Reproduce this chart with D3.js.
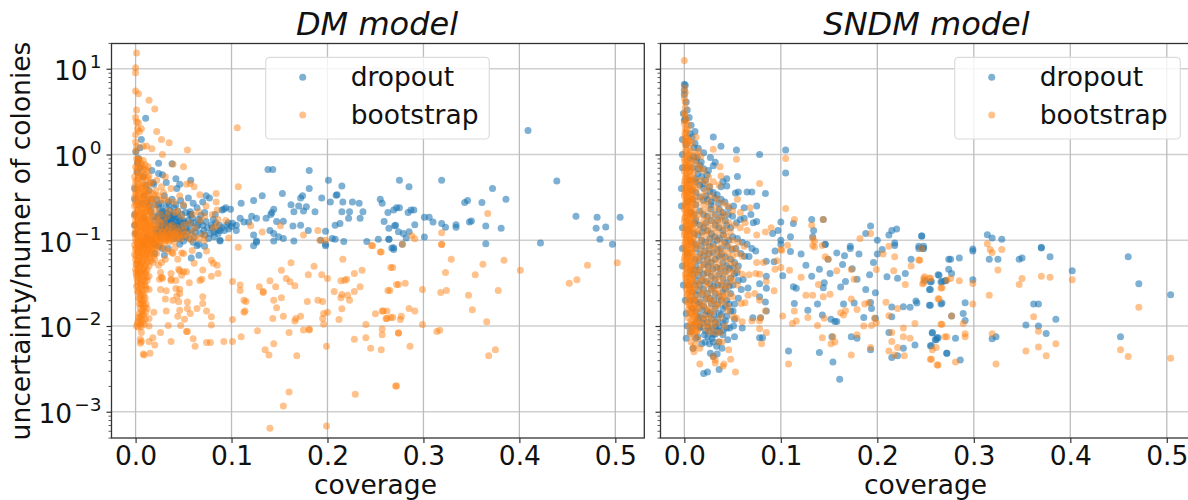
<!DOCTYPE html>
<html><head><meta charset="utf-8">
<script src="https://cdn.jsdelivr.net/npm/d3@7/dist/d3.min.js"></script>
<style>html,body{margin:0;padding:0;background:#fff;overflow:hidden}svg{display:block}text{font-family:"DejaVu Sans",sans-serif;fill:#111}</style>
</head><body><svg id="c" width="1188" height="500"></svg>
<script>
const panelTitles=["DM model","SNDM model"];
const seriesNames=["dropout","bootstrap"];
const seriesColors=["#1f77b4","#ff7f0e"];
const xTicks=[0,.1,.2,.3,.4,.5];
const yTicks=[10,1,.1,.01,.001];
const yMinor=[20,9,8,7,6,5,4,3,2,.9,.8,.7,.6,.5,.4,.3,.2,.09,.08,.07,.06,.05,.04,.03,.02,.009,.008,.007,.006,.005,.004,.003,.002,.0009,.0008,.0007,.0006,.0005];

const dmDropout=[[.138,.67],[.143,.67],[.181,.65],[.201,.5],[.215,.43],[.275,.5],[.181,.4],[.153,.35],[.132,.33],[.123,.29],[.11,.27],[.21,.34],[.209,.335],[.194,.31],[.174,.33],[.172,.31],[.162,.26],[.17,.25],[.178,.245],[.165,.215],[.175,.22],[.187,.215],[.203,.28],[.216,.28],[.226,.28],[.233,.27],[.215,.215],[.223,.215],[.237,.215],[.255,.3],[.257,.27],[.263,.21],[.269,.225],[.275,.24],[.222,.18],[.234,.18],[.259,.165],[.271,.15],[.213,.157],[.208,.15],[.172,.15],[.164,.147],[.18,.13],[.154,.167],[.147,.165],[.144,.23],[.141,.2],[.142,.21],[.136,.18],[.126,.18],[.121,.19],[.109,.18],[.113,.163],[.118,.163],[.101,.158],[.105,.13],[.097,.135],[.094,.24],[.099,.23],[.09,.225],[.083,.2],[.0735,.33],[.077,.31],[.07,.28],[.0575,.5],[.042,.52],[.038,.78],[.024,.79],[.006,1.5],[.0105,2.65],[.0003,1.08],[.0045,1.2],[.017,.65],[.024,.6],[.028,.58],[.018,.47],[.019,.45],[.032,.47],[.046,.45],[.043,.4],[.057,.215],[.058,.2],[.067,.165],[.072,.21],[.081,.175],[.092,.23],[.088,.13],[.088,.1],[.123,.115],[.126,.098],[.14,.13],[.144,.12],[.144,.098],[.149,.11],[.154,.105],[.165,.098],[.198,.127],[.193,.1],[.198,.09],[.205,.105],[.208,.103],[.217,.097],[.241,.097],[.253,.103],[.264,.103],[.269,.082],[.123,.086],[.126,.095],[.088,.098],[.198,.086],[.269,.078],[.064,.086],[.046,.09],
[.409,1.9],[.319,.5],[.439,.49],[.285,.42],[.372,.4],[.386,.3],[.346,.29],[.343,.275],[.361,.275],[.272,.24],[.284,.21],[.287,.225],[.29,.225],[.27,.148],[.264,.138],[.274,.126],[.279,.12],[.285,.126],[.282,.106],[.291,.152],[.301,.185],[.306,.185],[.31,.163],[.319,.157],[.323,.142],[.334,.152],[.334,.142],[.348,.163],[.35,.168],[.365,.147],[.381,.138],[.301,.109],[.264,.103],[.365,.091],[.422,.093],[.459,.19],[.481,.185],[.49,.143],[.48,.138],[.505,.185],[.484,.103],[.497,.09],[.267,.081],[.278,.09],
[.022,.3],[.027,.27],[.03,.33],[.034,.28],[.038,.3],[.042,.26],[.047,.29],[.05,.25],[.055,.31],[.06,.27],[.064,.24],[.052,.21],[.048,.2],[.044,.22],[.04,.24],[.036,.22],[.032,.24],[.028,.22],[.024,.2],[.03,.19],[.034,.19],[.038,.18],[.042,.18],[.046,.17],[.05,.17],[.055,.17],[.06,.16],[.065,.15],[.07,.15],[.075,.14],[.08,.14],[.085,.13],[.09,.14],[.095,.15],[.1,.145],[.105,.15],[.058,.13],[.062,.125],[.068,.12],[.072,.115],[.078,.12],[.082,.11],[.086,.12],[.028,.17],[.032,.165],[.036,.16],[.04,.15],[.044,.145],[.048,.14],[.052,.135],[.024,.15],[.028,.145],[.032,.14],[.036,.135],[.04,.13],[.044,.125],[.048,.12],[.052,.11],[.056,.105],[.02,.17],[.018,.19],[.016,.22],[.014,.25],[.012,.28],[.016,.3],[.02,.26],[.024,.26],[.026,.17],[.03,.155],[.034,.15],[.038,.145],[.042,.14],[.03,.13],[.034,.12],[.038,.115],[.026,.125],[.06,.095],[.066,.09],[.072,.085],[.05,.098],[.045,.105],[.04,.105],[.03,.21],[.036,.2],[.04,.2],[.025,.235],[.035,.26],[.011,.44],[.014,.38],[.008,.55],[.005,.7],[.009,.33],[.006,.27],[.003,.9],[.002,.8],[-.001,.4],[-.001,.2],[0,.12],[-.001,.3],[-.001,.15],[.002,.62],[.012,.11],[.016,.1],[.02,.09],[.024,.085],[.028,.08],[.034,.08],[.058,.062],[.066,.067],[.03,.067],[.02,.07],[.009,.18],[.008,.09]];

const dmDropoutDense=[[.0225,.185],[.0265,.205],[.029,.135],[.0305,.175],[.0315,.118],[.033,.158],[.0345,.178],[.035,.142],[.0365,.122],[.0375,.168],[.0385,.152],[.0395,.19],[.041,.138],[.0415,.165],[.043,.119],[.0435,.155],[.0445,.185],[.045,.135],[.0465,.15],[.0475,.112],[.0495,.128],[.0515,.16],[.053,.145],[.0545,.125],[.0565,.2],[.0575,.155],[.059,.18],[.061,.11],[.0635,.14],[.0655,.175],[.068,.195],[.071,.13],[.0735,.165],[.076,.105],[.079,.15],[.0815,.125],[.0835,.16],[.0875,.15],[.0925,.13],[.0965,.16],[.0205,.135],[.0235,.125],[.0265,.145],[.0285,.19],[.0325,.205],[.0355,.175],[.0255,.11],[.0215,.12],[.0335,.108],[.0475,.165]];

const dmBootstrap=[[.001,15.3],[0,10.3],[0,9],[0,5.5],[.003,5.1],[.014,4.3],[.02,3.4],[.001,3.3],[0,2.7],[.001,2.4],[.003,2.35],[.002,2],[.006,2],[.004,1.85],[.106,2.05],[.022,1.85],[.027,1.5],[.035,1.37],[.054,1.13],[.0115,1.26],[.008,1.24],[.017,1.17],[.028,1],[.039,.77],[.05,.72],[0,1.7],[0,1.4],[.001,1.24],[.0003,1.1],[.107,.42],[.061,.42],[.057,.46],[.053,.45],[.067,.34],[.084,.35],[.084,.28],[.0735,.25],[.085,.225],[.066,.215],[.08,.2],[.086,.175],[.094,.17],[.085,.15],[.081,.14],[.071,.115],[.097,.106],[.12,.148],[.151,.148],[.132,.125],[.175,.115],[.19,.13],[.192,.1],[.198,.1],[.246,.087],[.367,.205],[.319,.122],[.288,.113],[.291,.104],[.278,.09],[.319,.09],
[.107,.083],[.256,.073],[.247,.086],[.074,.075],[.038,.072],[.039,.07],[.031,.06],[.044,.06],[.05,.07],[.048,.071],[.061,.054],[.059,.076],[.079,.0585],[.081,.054],[.085,.051],[.07,.045],[.079,.038],[.086,.041],[.05,.043],[.053,.043],[.045,.046],[.046,.044],[.048,.039],[.026,.042],[.027,.037],[.025,.035],[.028,.036],[.037,.041],[.037,.035],[.037,.034],[.042,.034],[.024,.051],[.014,.038],[.056,.032],[.067,.034],[.069,.035],[.101,.033],[.109,.03],[.109,.026],[.129,.0287],[.133,.0253],[.133,.0245],[.14,.0336],[.146,.0287],[.152,.0447],[.162,.0545],[.157,.0358],[.161,.0328],[.166,.0295],[.18,.0395],[.186,.0499],[.194,.0395],[.2,.0358],[.216,.06],[.214,.0336],[.218,.0342],[.22,.035],[.228,.041],[.236,.0447],[.234,.0287],[.228,.0253],[.207,.0253],[.215,.0233],[.214,.0213],[.221,.0229],[.223,.02],[.268,.0481],[.265,.026],[.274,.0305],[.215,.0159],[.179,.0193],[.19,.02],[.195,.0193],[.152,.0213],[.144,.0199],[.147,.0163],[.113,.02],[.115,.0193],[.113,.0145],[.114,.015],[.07,.0219],[.07,.0183],[.054,.019],[.054,.016],[.057,.014],[.064,.016],[.074,.015],[.046,.0153],[.032,.015],[.019,.0145],[.031,.0206],[.039,.02],[.045,.0192],[.026,.0267],[.032,.0258],[.042,.0273],[.046,.0269],[.046,.024],[.043,.0223],[.014,.0267],[.196,.014],[.2,.0145],[.195,.0122],[.196,.0105],[.172,.013],[.167,.0122],[.166,.0114],[.154,.013],[.143,.0122],[.101,.0119],[.079,.0128],[.079,.0103],[.051,.012],[.044,.013],[.014,.0122],[.034,.0101],[.047,.0101],[.014,.01],[.006,.0084],[.053,.0086],[.054,.0086],[.026,.0084],[.127,.0088],[.16,.0084],[.175,.009],[.181,.0092],[.181,.009],[.212,.0119],[.24,.0104],[.257,.0092],[.257,.0079],[.274,.0083],[.25,.0139],[.262,.015],[.258,.015],[.262,.0122],[.268,.0126],[.228,.007],[.24,.0073],[.245,.0055],[.256,.0053],[.199,.0058],[.144,.0062],[.135,.0053],[.139,.0046],[.168,.0045],[.11,.0075],[.101,.0066],[.092,.0066],[.074,.0064],[.078,.0064],[.062,.0058],[.06,.0071],[.037,.0066],[.02,.006],[.018,.0073],[.014,.0066],[.005,.007],[.006,.0066],[.005,.0063],[.015,.0048],[.008,.0047],[.009,.0046],[.16,.0017],[.229,.0016],[.154,.00117],[.199,.00068],[.14,.00064],[.272,.002],
[.319,.089],[.329,.06],[.362,.0525],[.384,.0585],[.401,.0447],[.471,.051],[.502,.0545],[.46,.0345],[.452,.0316],[.354,.0395],[.323,.042],[.266,.0481],[.255,.073],[.272,.0305],[.281,.0316],[.263,.026],[.299,.0267],[.324,.026],[.318,.0245],[.347,.0228],[.378,.026],[.351,.0155],[.285,.016],[.291,.015],[.257,.015],[.261,.0122],[.266,.0126],[.277,.013],[.276,.0119],[.299,.0104],[.366,.0112],[.314,.0086],[.317,.0089],[.274,.0083],[.286,.0058],[.375,.0053],[.368,.0045],[.271,.002],
[.001,.9],[.004,.88],[.008,.85],[.002,.8],[.006,.78],[.01,.76],[.013,.72],[0,.72],[.004,.7],[.008,.66],[.012,.64],[.001,.63],[.005,.6],[.009,.58],[.014,.56],[-.001,.55],[.003,.53],[.007,.52],[.011,.5],[.016,.47],[0,.48],[.004,.46],[.008,.45],[.012,.43],[-.001,.42],[.002,.41],[.006,.4],[.01,.38],[.014,.37],[.018,.35],[0,.37],[.004,.35],[.008,.34],[.012,.33],[.016,.31],[-.001,.32],[.002,.31],[.006,.3],[.01,.29],[.014,.28],[.02,.27],[0,.28],[.004,.26],[.008,.26],[.012,.25],[.016,.24],[.022,.23],[-.001,.25],[.002,.23],[.006,.23],[.01,.22],[.014,.22],[.018,.2],[.026,.2],[0,.21],[.004,.2],[.008,.2],[.012,.19],[.016,.18],[.022,.18],[-.001,.19],[.002,.18],[.006,.175],[.01,.17],[.014,.165],[.018,.16],[.03,.165],[.026,.16],[0,.165],[.004,.16],[.008,.155],[.012,.15],[.016,.148],[.021,.145],[.025,.14],[-.001,.15],[.002,.145],[.006,.14],[.01,.136],[.014,.132],[.018,.13],[.023,.128],[.028,.125],[.033,.13],[.038,.128],[.044,.128],[.05,.132],[0,.13],[.004,.125],[.008,.122],[.012,.118],[.016,.116],[.02,.114],[.025,.112],[.03,.114],[.035,.116],[.04,.118],[.046,.115],[.052,.118],[.058,.122],[-.001,.118],[.002,.112],[.006,.11],[.01,.106],[.014,.105],[.018,.103],[.022,.102],[.027,.103],[.032,.104],[.037,.106],[.042,.105],[.047,.104],[.055,.108],[.062,.11],[0,.105],[.004,.1],[.008,.097],[.012,.095],[.016,.094],[.02,.092],[.025,.092],[.03,.094],[.035,.096],[.04,.097],[.002,.092],[.006,.09],[.01,.087],[.014,.085],[.018,.083],[.022,.082],[.026,.083],[-.001,.088],[.004,.082],[.008,.08],[.012,.077],[.016,.075],[0,.078],[.002,.074],[.006,.072],[.01,.07],[.014,.068],[.019,.066],[.022,.07],[-.001,.068],[.004,.065],[.008,.063],[.012,.06],[.016,.058],[0,.06],[.002,.057],[.006,.055],[.01,.053],[.014,.05],[.018,.055],[.001,.052],[.004,.049],[.008,.047],[.012,.045],[0,.046],[.003,.043],[.006,.041],[.01,.04],[.001,.039],[.004,.036],[.008,.035],[.012,.034],[.002,.033],[.005,.031],[.009,.03],[.001,.029],[.004,.027],[.007,.026],[.011,.027],[.002,.025],[.005,.023],[.009,.023],[.003,.021],[.006,.02],[.01,.021],[.004,.018],[.007,.018],[.011,.018],[.005,.016],[.008,.016],[.012,.016],[.004,.014],[.007,.0135],[.003,.0125],[.006,.012],[.01,.012],[.002,.0108],[.005,.0105],[.009,.0105],[.001,.01],[.003,.0097],[.006,.0098],
[.03,.3],[.04,.28],[.034,.22],[.02,.33],[.027,.42],[.022,.5],[.031,.55],[.037,.4],[.046,.33],[.05,.26],[.044,.22],[.06,.2],[.067,.17],[.072,.19],[.056,.16],[.05,.15],[.062,.14],[.058,.1],[.066,.105],[.072,.1],[.034,.075],[.041,.082],[.03,.08],[.02,.06],[.027,.055]];

const dmBootstrapDense=[[.0025,.86],[.0065,.74],[.0015,.69],[.0105,.67],[.0035,.57],[.0075,.55],[.0125,.54],[.0015,.5],[.0055,.43],[.0095,.42],[.0025,.385],[.0075,.37],[.0115,.36],[.0005,.345],[.0045,.325],[.0085,.315],[.0135,.3],[.0025,.29],[.0065,.275],[.0105,.265],[.0005,.26],[.0045,.245],[.0085,.235],[.0125,.23],[.0025,.22],[.0065,.21],[.0105,.205],[.0155,.21],[.0005,.195],[.0045,.19],[.0085,.185],[.0125,.175],[.0025,.17],[.0065,.165],[.0105,.16],[.0145,.155],[.0195,.15],[.0005,.155],[.0045,.148],[.0085,.143],[.0125,.14],[.0165,.138],[.0025,.135],[.0065,.13],[.0105,.127],[.0145,.123],[.0185,.12],[.0225,.117],[.0275,.118],[.0325,.121],[.0375,.122],[.0425,.12],[.0005,.122],[.0045,.115],[.0085,.113],[.0125,.11],[.0165,.108],[.0205,.107],[.0245,.106],[.0295,.108],[.0345,.11],[.0395,.112],[.0445,.11],[.0495,.113],[.0025,.104],[.0065,.102],[.0105,.1],[.0145,.098],[.0185,.097],[.0225,.097],[.0265,.097],[.0315,.099],[.0365,.101],[.0005,.097],[.0045,.094],[.0085,.091],[.0125,.089],[.0165,.088],[.0205,.086],[.0025,.086],[.0065,.084],[.0105,.082],[.0145,.08],[.0185,.078],[.0005,.082],[.0045,.077],[.0085,.075],[.0125,.072],[.0165,.07],[.0025,.071],[.0065,.068],[.0105,.065],[.0145,.063],[.0005,.066],[.0045,.062],[.0085,.059],[.0125,.056],[.0025,.058],[.0065,.053],[.0105,.05],[.0005,.053],[.0045,.051],[.0085,.044],[.0025,.046],[.0055,.044],[.0105,.043],[.0005,.042],[.0035,.04],[.0075,.038],[.0115,.037],[.0015,.036],[.0055,.034],[.0095,.033],[.0025,.03],[.0065,.029],[.0105,.029],[.0035,.025],[.0075,.024],[.0045,.021],[.0085,.02],[.0055,.018],[.0095,.017],[.0065,.015],[.0105,.0145],[.0045,.0128],[.0085,.0135],[.0035,.0115],[.0075,.0112],
[.015,.46],[.021,.38],[.024,.33],[.026,.29],[.033,.19],[.038,.15],[.043,.14],[.03,.14],[.035,.145],[.024,.17],[.018,.3],[.029,.36],[.034,.29],[.041,.21],[.048,.19]];

const sndmDropout=[[0,6.6],[.001,6.4],[0,5.6],[0,5],[.002,4.1],[.005,2.7],[0,2.5],[.001,2.6],[.011,1.85],[.006,1.75],[.03,1.6],[.038,1.25],[.054,1.13],[.105,1.13],[.078,1],[.105,.61],[.055,.555],[.011,1.35],[.0145,1.18],[.02,1.05],[.027,.92],[.032,.81],[.03,.74],[.025,.65],[.044,.52],[.04,.485],[.038,.42],[.044,.43],[.053,.355],[.056,.365],[.065,.365],[.07,.365],[.084,.35],[.075,.25],[.062,.24],[.051,.25],[.0275,.26],[.069,.2],[.062,.18],[.058,.175],[.075,.165],[.0715,.16],[.1,.163],[.113,.157],[.132,.175],[.144,.175],[.134,.13],[.133,.11],[.146,.09],[.097,.13],[.0915,.12],[.11,.11],[.1,.1],[.172,.085],[.193,.147],[.188,.12],[.212,.115],[.215,.13],[.22,.135],[.246,.112],[.2,.1],[.218,.093],[.243,.085],[.248,.085],
[.002,.0072],[.009,.0055],[.02,.0028],[.024,.0029],[.036,.0031],[.027,.0048],[.161,.0024],[.154,.0038],[.14,.0049],[.108,.0051],[.173,.0075],[.179,.0072],[.153,.0075],[.193,.0053],[.215,.0043],[.221,.0045],[.227,.0055],[.239,.006],[.256,.0059],[.26,.0069],[.262,.0073],[.272,.0048],[.257,.0084],[.212,.0084],[.215,.0166],[.215,.0128],[.227,.0168],[.234,.0165],[.24,.0195],[.255,.0175],[.267,.0185],[.194,.016],[.193,.0188],[.198,.0123],[.186,.0126],[.188,.0267],[.198,.0244],[.192,.0395],[.196,.055],[.21,.0375],[.221,.036],[.229,.041],[.205,.078],[.218,.087],[.2,.069],[.243,.08],[.248,.08],[.235,.06],[.264,.039],[.256,.033],[.255,.0267],[.267,.033],[.271,.034],[.274,.06],[.181,.069],[.172,.08],[.166,.066],[.158,.071],[.164,.052],[.174,.0465],[.151,.041],[.149,.06],[.167,.033],[.162,.0285],[.179,.035],[.176,.0186],[.165,.018],[.138,.018],[.128,.0153],[.143,.0134],[.152,.012],[.156,.0113],[.158,.0113],[.145,.032],[.144,.028],[.14,.046],[.132,.038],[.126,.051],[.121,.069],[.146,.089],[.113,.0286],[.116,.0275],[.114,.0183],[.102,.0385],[.11,.074],[.1,.09],[.094,.075],[.093,.056],[.085,.057],[.085,.038],[.085,.0275],[.084,.019],[.085,.015],[.078,.031],[.078,.022],[.071,.0125],[.079,.0125],[.078,.0073],[.081,.0073],[.067,.0645],[.074,.075],[.066,.0278],[.059,.0267],[.061,.0348],[.06,.0095],[.052,.0075],[.051,.01],[.047,.0095],[.045,.0069],[.04,.0079],[.03,.008],[.032,.008],[.021,.0079],[.006,.0085],[.009,.0098],[.016,.0098],
[.246,.112],[.314,.116],[.319,.106],[.329,.103],[.37,.083],[.299,.079],[.299,.075],[.316,.06],[.325,.06],[.347,.06],[.35,.062],[.37,.081],[.379,.064],[.46,.064],[.402,.044],[.471,.031],[.504,.0232],[.247,.08],[.276,.06],[.285,.062],[.274,.046],[.277,.041],[.263,.0395],[.27,.0335],[.266,.0325],[.255,.0325],[.249,.034],[.254,.0267],[.299,.0345],[.291,.0187],[.266,.018],[.254,.0175],[.241,.0185],[.289,.014],[.277,.0131],[.291,.0116],[.362,.018],[.367,.018],[.354,.0103],[.367,.01],[.385,.012],[.375,.0082],[.323,.0075],[.319,.0071],[.452,.0075],[.257,.0083],[.263,.0073],[.261,.0069],[.281,.0072],[.255,.0059],[.272,.0048],[.286,.004],
[.012,.85],[.016,.75],[.02,.68],[.014,.6],[.018,.55],[.022,.5],[.012,.48],[.016,.44],[.02,.4],[.026,.42],[.03,.36],[.034,.34],[.038,.3],[.012,.36],[.016,.32],[.02,.29],[.024,.3],[.028,.28],[.042,.28],[.046,.24],[.036,.23],[.04,.21],[.032,.2],[.012,.26],[.016,.22],[.02,.2],[.024,.19],[.028,.17],[.05,.19],[.054,.16],[.048,.14],[.044,.15],[.04,.13],[.036,.14],[.032,.15],[.028,.12],[.024,.13],[.02,.14],[.016,.15],[.012,.17],[.014,.115],[.018,.1],[.022,.095],[.026,.085],[.03,.09],[.034,.1],[.038,.08],[.042,.095],[.046,.1],[.05,.11],[.055,.105],[.06,.095],[.065,.09],[.07,.08],[.012,.08],[.016,.07],[.02,.065],[.024,.06],[.028,.055],[.032,.06],[.036,.065],[.04,.055],[.044,.05],[.048,.06],[.052,.055],[.056,.05],[.012,.05],[.016,.045],[.02,.04],[.024,.042],[.028,.038],[.032,.035],[.036,.04],[.04,.036],[.044,.032],[.048,.036],[.052,.04],[.056,.034],[.012,.034],[.016,.03],[.02,.027],[.024,.024],[.028,.027],[.032,.024],[.036,.022],[.04,.025],[.044,.02],[.048,.024],[.052,.018],[.056,.021],[.012,.023],[.016,.019],[.02,.017],[.024,.015],[.028,.018],[.032,.016],[.036,.014],[.04,.016],[.044,.013],[.048,.015],[.052,.012],[.012,.015],[.016,.013],[.02,.012],[.024,.011],[.028,.012],[.032,.011],[.036,.01],[.04,.011],[.044,.0095],[.012,.011],[.016,.0095],[.022,.0088],[.026,.0088],[.034,.0088],[.03,.0065],[.036,.0065],[.026,.0062],[.018,.0062],[.014,.0075],[.012,.0072],[.039,.0055],[.034,.0047],[.03,.0044],
[-.002,1.5],[-.002,1],[.009,.7],[-.002,.7],[-.003,.4],[.009,.3],[-.003,.25],[-.002,.14],[.01,.2],[-.002,.08],[.01,.12],[-.002,.05],[-.001,.03],[.011,.06],[.001,.02],[.009,.04],[.002,.014],[.008,.025],[.003,.01],[.008,.016],[.01,1.2],[.008,1.6],[.007,2.2],[.003,3.3],[-.001,3],[.002,1.3],[.006,.9]];

const sndmDropoutDense=[[.0135,.92],[.0175,.82],[.0145,.68],[.0235,.58],[.0195,.46],[.0265,.37],[.0225,.33],[.0315,.31],[.0275,.23],[.0355,.27],[.0385,.19],[.0345,.17],[.0455,.2],[.0425,.17],[.0225,.16],[.0185,.125],[.0265,.105],[.0315,.11],[.0365,.105],[.0405,.115],[.0445,.085],[.0495,.078],[.0535,.08],[.0585,.07],[.0625,.065],[.0175,.085],[.0215,.075],[.0255,.07],[.0295,.072],[.0345,.078],[.0385,.068],[.0425,.064],[.0465,.047],[.0155,.058],[.0205,.052],[.0245,.05],[.0295,.046],[.0335,.048],[.0375,.047],[.0425,.043],[.0505,.047],[.0545,.042],[.0145,.039],[.0185,.034],[.0225,.033],[.0265,.031],[.0305,.029],[.0345,.03],[.0385,.03],[.0425,.027],[.0465,.029],[.0505,.03],[.0145,.026],[.0185,.023],[.0225,.0205],[.0265,.021],[.0305,.02],[.0345,.018],[.0385,.02],[.0425,.017],[.0465,.018],[.0505,.015],[.0145,.018],[.0185,.0155],[.0225,.0135],[.0265,.0142],[.0305,.0135],[.0345,.012],[.0385,.0135],[.0425,.0115],[.0145,.0125],[.0185,.0108],[.0245,.0098],[.0285,.0095],[.0325,.0098],[.0365,.0085],[.0405,.009],[.0245,.0075],[.0285,.0072],[.0335,.0058],[.0215,.0065],[.0035,.7],[.0055,.5],[.0075,.38],[.0035,.28],[.0065,.21],[.0045,.13],[.0075,.095],[.0035,.07],[.0065,.045],[.0045,.03],[.0065,.02],[.0095,.95],[.0115,.52],[.0105,.16],[.0115,.09],[.0105,.045],[.0105,.03],[.0105,.02]];

const sndmBootstrap=[[.0,12.5],[.0,6],[.001,5.3],[0,4.6],[.001,4.1],[.001,3.5],[0,3],[.002,2.6],[0,2.3],[.001,2],[.002,1.8],[.012,1.6],[.004,1.5],[.03,1.15],[.054,.88],[.105,.9],[.037,.72],[.078,.46],[.038,.56],[.105,.235],[.114,.175],[.144,.175],[.132,.15],[.133,.105],[.09,.14],[.084,.125],[.075,.115],[.068,.24],[.063,.16],[.055,.3],[.193,.12],[.182,.105],[.212,.085],[.133,.087],[.143,.087],[.1,.078],
[.053,.0029],[.016,.0036],[.041,.0036],[.04,.0034],[.032,.0037],[.032,.004],[.03,.0044],[.048,.0041],[.046,.0053],[.01,.005],[.009,.0055],[.016,.0055],[.108,.0036],[.173,.0046],[.193,.0056],[.212,.0051],[.218,.0046],[.228,.0045],[.221,.0056],[.215,.0066],[.234,.0072],[.227,.0075],[.227,.0095],[.215,.0084],[.256,.0041],[.262,.0035],[.27,.0075],[.152,.0062],[.156,.0065],[.154,.0075],[.143,.0073],[.186,.01],[.179,.0079],[.194,.0101],[.199,.0109],[.197,.0123],[.138,.0101],[.145,.0123],[.162,.0143],[.167,.0151],[.165,.0134],[.179,.0156],[.173,.0206],[.187,.018],[.191,.0187],[.209,.0189],[.212,.0132],[.221,.016],[.229,.0305],[.239,.0107],[.267,.0105],[.264,.0207],[.267,.028],[.248,.0358],[.247,.031],[.254,.036],[.244,.0585],[.235,.05],[.218,.064],[.217,.044],[.206,.069],[.199,.0456],[.176,.035],[.173,.0456],[.158,.044],[.144,.022],[.151,.0235],[.133,.0229],[.126,.0229],[.139,.0305],[.146,.064],[.149,.06],[.135,.0836],[.135,.0975],[.121,.037],[.109,.0447],[.101,.0765],[.107,.0875],[.1,.048],[.094,.046],[.096,.0575],[.093,.0258],[.102,.0131],[.112,.0107],[.116,.0114],[.114,.015],[.128,.0126],[.085,.033],[.078,.04],[.075,.055],[.082,.055],[.074,.041],[.067,.0395],[.066,.0229],[.073,.024],[.063,.0187],[.059,.0183],[.078,.02],[.084,.015],[.079,.0125],[.07,.0115],[.078,.0115],[.06,.0112],[.078,.0093],[.085,.0084],[.08,.0062],[.051,.0128],[.054,.0123],[.038,.0126],[.045,.015],[.042,.01],[.033,.0107],[.037,.0084],[.032,.0084],[.035,.0065],[.039,.0065],
[.246,.08],[.243,.059],[.314,.091],[.317,.078],[.319,.072],[.329,.078],[.325,.045],[.35,.0358],[.347,.0305],[.37,.038],[.379,.037],[.402,.0345],[.471,.0165],[.316,.0228],[.299,.0313],[.285,.0337],[.276,.0358],[.272,.0342],[.266,.0277],[.263,.0208],[.255,.036],[.249,.0374],[.248,.032],[.299,.018],[.362,.0128],[.289,.0107],[.277,.0131],[.266,.0105],[.367,.0087],[.319,.0081],[.291,.0081],[.291,.0075],[.272,.0075],[.261,.0056],[.257,.0053],[.255,.0041],[.263,.0035],[.281,.0038],[.323,.0036],[.354,.0051],[.367,.0057],[.375,.0045],[.385,.0062],[.452,.0053],[.46,.0044],[.504,.0042],
[.004,2.2],[.001,1.6],[.005,1.45],[.008,1.35],[.001,1.3],[.004,1.2],[.007,1.1],[.001,1.05],[.004,.98],[.008,.92],[.011,.85],[0,.9],[.003,.84],[.006,.8],[.009,.74],[.001,.76],[.004,.7],[.007,.66],[.01,.62],[0,.64],[.003,.6],[.006,.56],[.009,.53],[.012,.5],[.001,.53],[.004,.49],[.007,.47],[.01,.44],[0,.45],[.003,.42],[.006,.4],[.009,.38],[.012,.36],[.001,.38],[.004,.35],[.007,.33],[.01,.31],[0,.33],[.003,.3],[.006,.29],[.009,.27],[.012,.26],[.001,.27],[.004,.25],[.007,.24],[.01,.225],[0,.23],[.003,.21],[.006,.2],[.009,.19],[.012,.18],[.001,.19],[.004,.175],[.007,.165],[.01,.155],[0,.165],[.003,.15],[.006,.14],[.009,.135],[.012,.125],[.001,.135],[.004,.125],[.007,.118],[.01,.11],[0,.115],[.003,.105],[.006,.1],[.009,.095],[.012,.09],[.001,.097],[.004,.088],[.007,.084],[.01,.079],[0,.082],[.003,.075],[.006,.071],[.009,.067],[.012,.063],[.001,.068],[.004,.062],[.007,.059],[.01,.056],[0,.058],[.003,.053],[.006,.05],[.009,.047],[.012,.044],[.001,.048],[.004,.044],[.007,.041],[.01,.039],[.001,.04],[.003,.037],[.006,.035],[.009,.033],[.012,.031],[.002,.033],[.004,.03],[.007,.028],[.01,.027],[.002,.027],[.005,.025],[.008,.024],[.011,.022],[.003,.023],[.005,.021],[.008,.02],[.011,.018],[.003,.019],[.006,.017],[.009,.016],[.012,.015],[.004,.0155],[.007,.014],[.01,.013],[.013,.0125],[.004,.0125],[.007,.0115],[.01,.0105],[.013,.01],[.005,.0098],[.008,.009],[.012,.0085],[.006,.008],[.01,.0075],[.014,.007],[.007,.0065],[.011,.006],
[.014,1.1],[.017,.95],[.015,.75],[.02,.65],[.025,.55],[.03,.48],[.036,.44],[.018,.5],[.014,.42],[.022,.38],[.028,.33],[.034,.3],[.04,.27],[.045,.25],[.05,.22],[.058,.21],[.016,.3],[.02,.26],[.025,.23],[.03,.2],[.036,.18],[.04,.17],[.046,.16],[.052,.15],[.058,.14],[.065,.13],[.015,.2],[.02,.17],[.024,.15],[.03,.14],[.034,.125],[.04,.115],[.044,.11],[.05,.1],[.056,.095],[.062,.085],[.015,.13],[.02,.115],[.025,.1],[.03,.085],[.035,.08],[.04,.075],[.045,.07],[.05,.065],[.055,.07],[.06,.065],[.015,.085],[.02,.075],[.025,.068],[.03,.06],[.035,.055],[.04,.05],[.045,.045],[.05,.042],[.055,.045],[.06,.04],[.015,.06],[.02,.052],[.025,.046],[.03,.042],[.035,.038],[.04,.034],[.045,.03],[.05,.034],[.055,.03],[.015,.042],[.02,.036],[.025,.032],[.03,.028],[.035,.026],[.04,.023],[.045,.024],[.05,.022],[.015,.029],[.02,.025],[.025,.022],[.03,.02],[.035,.018],[.04,.019],[.045,.017],[.015,.02],[.02,.018],[.025,.016],[.03,.015],[.015,.016],[.02,.013],[.025,.012],[.03,.0115],[.018,.0105],[.022,.0095],[.026,.0085],[.014,.0105]];

const sndmBootstrapDense=[[.0005,2.9],[.0015,2.45],[.003,1.95],[.0005,1.75],[.0025,1.55],[.0005,1.42],[.0035,1.38],[.0015,1.15],[.0055,1.02],[.0025,.95],[.0005,.83],[.0045,.77],[.0025,.69],[.0005,.7],[.0055,.63],[.0015,.58],[.0035,.54],[.0075,.5],[.0005,.49],[.0025,.45],[.0055,.43],[.0085,.41],[.0015,.41],[.0035,.375],[.0065,.36],[.0005,.355],[.0025,.325],[.0055,.31],[.0085,.3],[.0015,.3],[.0035,.275],[.0065,.26],[.0005,.25],[.0025,.235],[.0055,.22],[.0085,.21],[.0015,.21],[.0035,.195],[.0065,.18],[.0005,.18],[.0025,.165],[.0055,.155],[.0085,.15],[.0015,.15],[.0035,.138],[.0065,.128],[.0005,.125],[.0025,.115],[.0055,.11],[.0085,.105],[.0015,.106],[.0035,.096],[.0065,.09],[.0005,.09],[.0025,.082],[.0055,.078],[.0085,.073],[.0015,.073],[.0035,.067],[.0065,.064],[.0005,.063],[.0025,.057],[.0055,.055],[.0085,.052],[.0015,.052],[.0035,.047],[.0065,.045],[.0025,.042],[.0055,.038],[.0085,.036],[.0015,.036],[.0035,.032],[.0065,.031],[.0025,.029],[.0055,.027],[.0085,.026],[.0035,.024],[.0065,.022],[.0095,.02],[.0045,.018],[.0075,.017],[.0105,.0165],[.0055,.0145],[.0085,.0135],[.0115,.0135],[.0065,.0105],[.0095,.0112],[.0125,.0112],[.0075,.0085],[.0105,.0088],[.0135,.0088],
[.0125,.99],[.0165,.68],[.0225,.47],[.0265,.42],[.0195,.33],[.0245,.28],[.0325,.24],[.0375,.22],[.0425,.2],[.0185,.22],[.0225,.19],[.0275,.17],[.0325,.16],[.0375,.145],[.0425,.135],[.0475,.125],[.0175,.15],[.0225,.13],[.0265,.12],[.0325,.105],[.0375,.095],[.0425,.09],[.0475,.082],[.0525,.08],[.0175,.1],[.0225,.088],[.0275,.078],[.0325,.07],[.0375,.065],[.0425,.06],[.0475,.055],[.0525,.052],[.0175,.068],[.0225,.06],[.0275,.053],[.0325,.048],[.0375,.044],[.0425,.04],[.0475,.036],[.0175,.048],[.0225,.042],[.0275,.037],[.0325,.034],[.0375,.03],[.0425,.028],[.0175,.034],[.0225,.03],[.0275,.026],[.0325,.024],[.0375,.022],[.0425,.021],[.0175,.024],[.0225,.021],[.0275,.019],[.0325,.017],[.0175,.0175],[.0225,.0155],[.0275,.0135],[.0195,.0118],[.0245,.0105],[.0285,.0098]];

const svg=d3.select("#c");
const defs=svg.append("defs");
const plotTop=43.5,plotBottom=438;
const fs=26.5;
const panels=[
 {title:panelTitles[0],drop:dmDropout.concat(dmDropoutDense),boot:dmBootstrap.concat(dmBootstrapDense),left:111.5,right:644.3,xd:[-.0251,.5302],titleX:377,legend:[265.7,489.3],labels:true},
 {title:panelTitles[1],drop:sndmDropout.concat(sndmDropoutDense),boot:sndmBootstrap.concat(sndmBootstrapDense),left:660.5,right:1197,xd:[-.0247,.5313],titleX:926.5,legend:[954.7,1180.3],labels:false}
];
panels.forEach((p,pi)=>{
 const x=d3.scaleLinear().domain(p.xd).range([p.left,p.right]);
 const y=d3.scaleLog().domain([19.7,.000494]).range([plotTop,plotBottom]);
 const g=svg.append("g");
 g.append("g").selectAll("line").data(yTicks).join("line")
  .attr("x1",p.left).attr("x2",p.right).attr("y1",d=>y(d)).attr("y2",d=>y(d)).attr("stroke","#cfcfcf").attr("stroke-width",1.6);
 g.append("g").selectAll("line").data(xTicks).join("line")
  .attr("y1",plotTop).attr("y2",plotBottom).attr("x1",d=>x(d)).attr("x2",d=>x(d)).attr("stroke","#bdbdbd").attr("stroke-width",1.3);
 defs.append("clipPath").attr("id","clip"+pi).append("rect").attr("x",p.left).attr("y",plotTop).attr("width",p.right-p.left).attr("height",plotBottom-plotTop);
 const pts=g.append("g").attr("clip-path",`url(#clip${pi})`);
 [p.drop,p.boot].forEach((arr,si)=>{
  pts.append("g").selectAll("circle").data(arr).join("circle")
   .attr("cx",d=>x(d[0])).attr("cy",d=>y(d[1])).attr("r",3.5)
   .attr("fill",seriesColors[si]).attr("fill-opacity",si?.48:.58);
 });
 const ax=g.append("g").attr("transform",`translate(0,${plotBottom})`)
  .call(d3.axisBottom(x).tickValues(xTicks).tickSize(5).tickPadding(5).tickFormat(d3.format(".1f")));
 ax.select(".domain").remove();
 ax.selectAll("line").attr("stroke","#333").attr("stroke-width",1.2);
 ax.selectAll("text").attr("font-size",fs).attr("dy",null).attr("y",27);
 const minor=g.append("g").attr("transform",`translate(${p.left},0)`)
  .call(d3.axisLeft(y).tickValues(yMinor).tickSize(3).tickFormat(""));
 minor.select(".domain").remove();
 minor.selectAll("line").attr("stroke","#333").attr("stroke-width",.8);
 const ay=g.append("g").attr("transform",`translate(${p.left},0)`)
  .call(d3.axisLeft(y).tickValues(yTicks).tickSize(5).tickFormat(""));
 ay.select(".domain").remove();
 ay.selectAll("line").attr("stroke","#333").attr("stroke-width",1.2);
 if(p.labels){
  ay.selectAll("text").each(function(d){
   const t=d3.select(this).attr("x",-10).attr("dy",null).attr("y",11).attr("text-anchor","end");
   t.text(null);
   const e=Math.round(Math.log10(d));
   t.append("tspan").attr("font-size",fs).text("10");
   t.append("tspan").attr("font-size",18.5).attr("dx",2).attr("dy",-12).text(String(e).replace("-","\u2212"));
  });
 }
 g.append("rect").attr("x",p.left).attr("y",plotTop).attr("width",p.right-p.left).attr("height",plotBottom-plotTop)
  .attr("fill","none").attr("stroke","#333").attr("stroke-width",1.3);
 svg.append("text").attr("x",p.titleX).attr("y",35).attr("text-anchor","middle").attr("font-size",32).attr("font-style","italic").text(p.title);
 svg.append("text").attr("x",(x(0)+x(.5))/2).attr("y",494).attr("text-anchor","middle").attr("font-size",fs).text("coverage");
 const lg=svg.append("g");
 lg.append("rect").attr("x",p.legend[0]).attr("y",57.3).attr("width",p.legend[1]-p.legend[0]).attr("height",81.7).attr("rx",4)
  .attr("fill","#fff").attr("fill-opacity",.8).attr("stroke","#dcdcdc").attr("stroke-width",1.2);
 seriesNames.forEach((n,i)=>{
  const ly=[77.3,115][i];
  lg.append("circle").attr("cx",p.legend[0]+37).attr("cy",ly).attr("r",3.5).attr("fill",seriesColors[i]).attr("fill-opacity",i?.48:.58);
  lg.append("text").attr("x",p.legend[0]+85).attr("y",ly+9).attr("font-size",fs).text(n);
 });
});
svg.append("text").attr("transform","translate(30,241) rotate(-90)").attr("text-anchor","middle").attr("font-size",fs).text("uncertainty/numer of colonies");
</script></body></html>
